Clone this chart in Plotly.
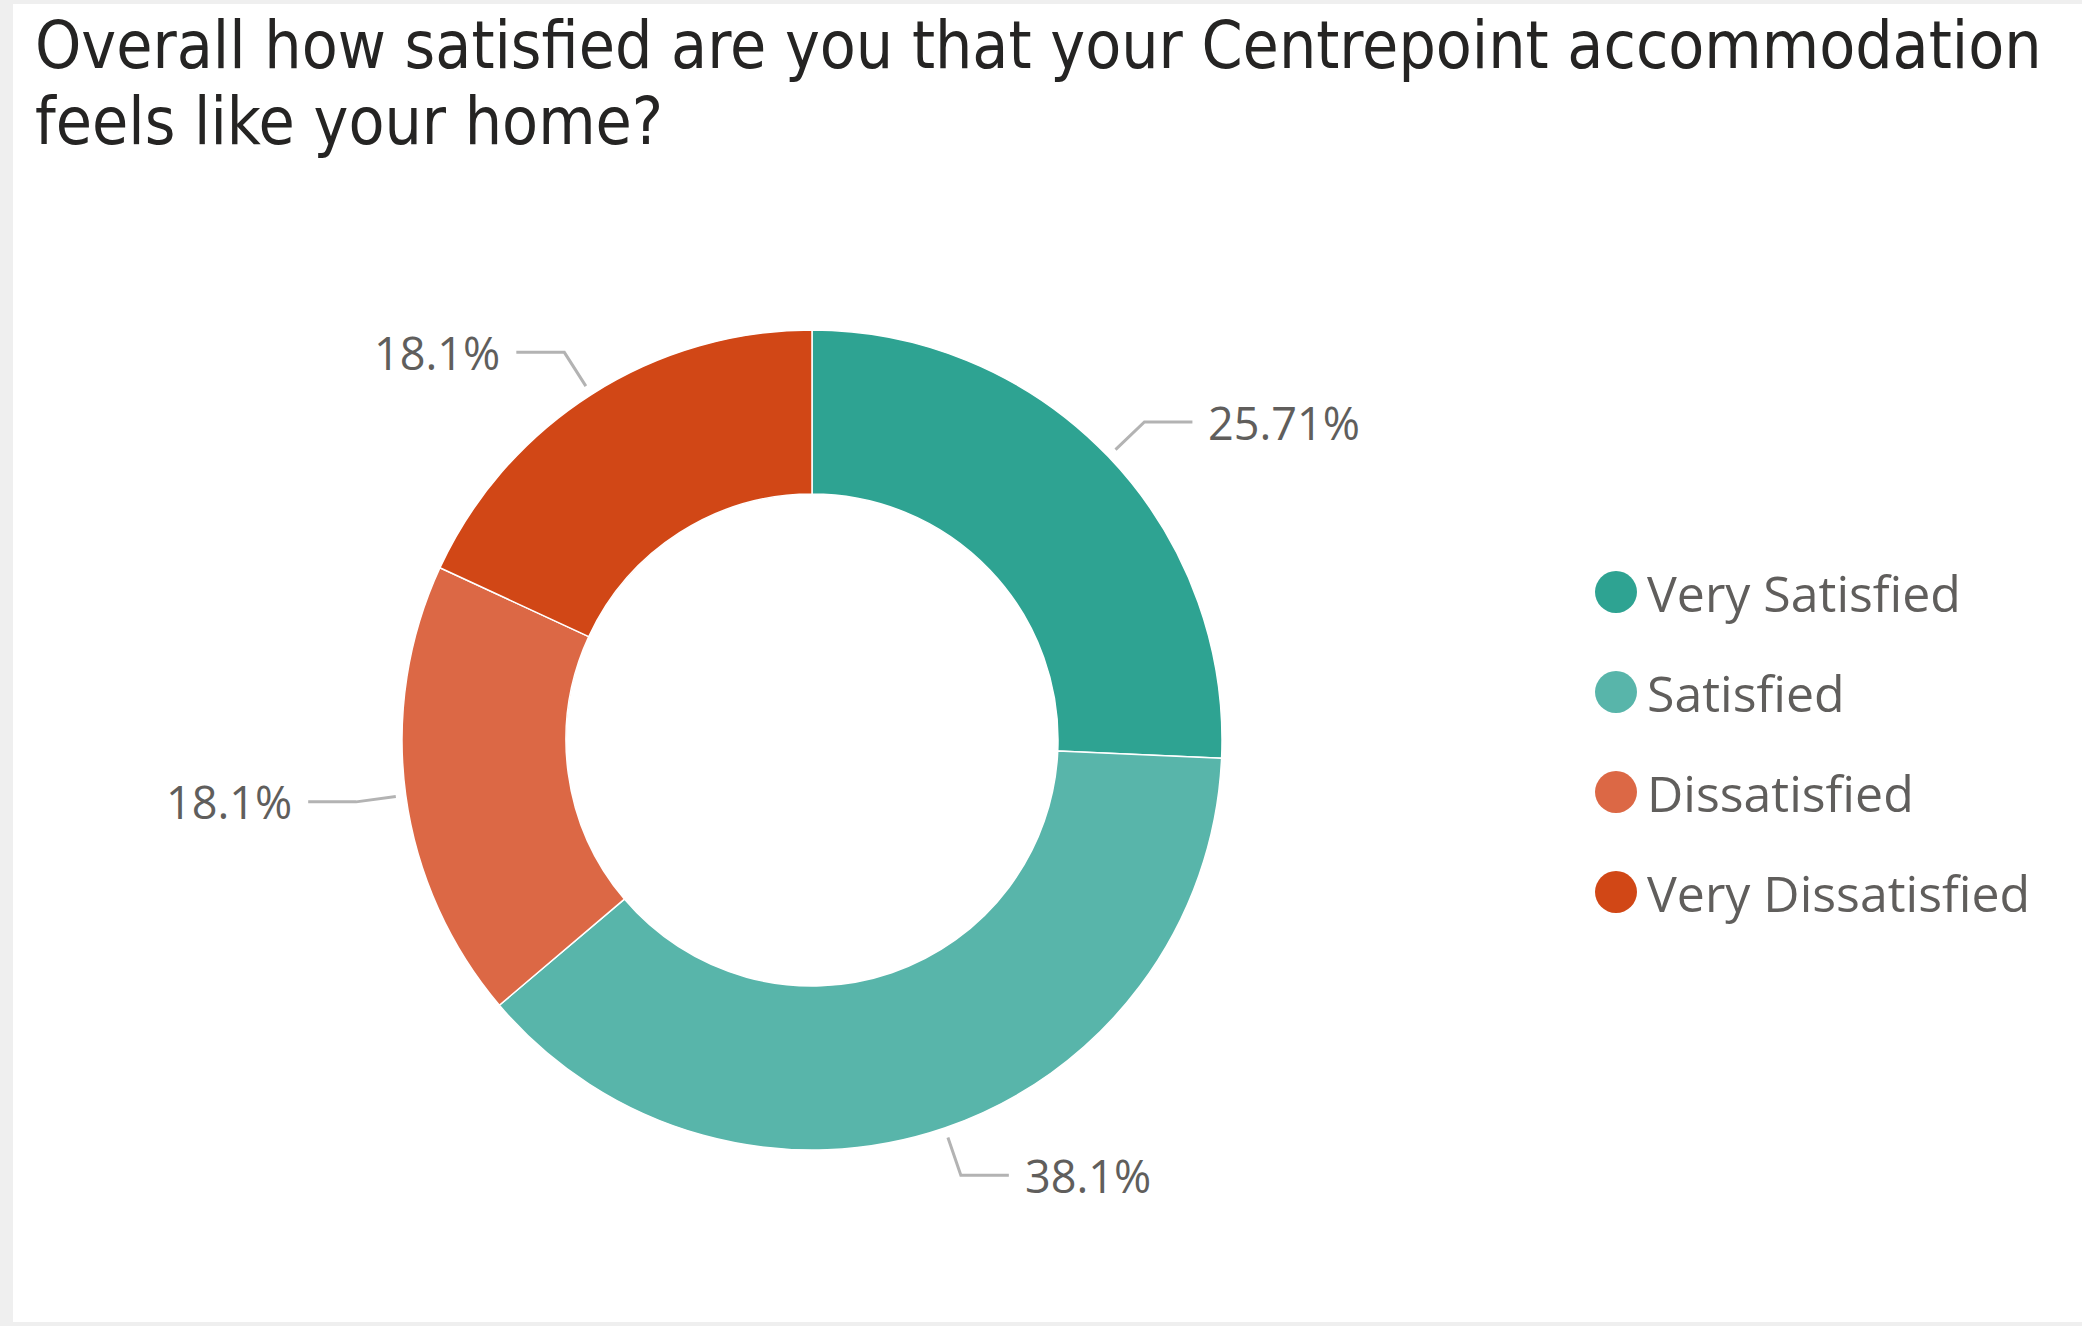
import math
import plotly.graph_objects as go

# --- data -------------------------------------------------------------
categories = ["Very Satisfied", "Satisfied", "Dissatisfied", "Very Dissatisfied"]
shares = [25.71, 38.1, 18.1, 18.1]
share_labels = ["25.71%", "38.1%", "18.1%", "18.1%"]
colors = ["#2EA392", "#58B5AA", "#DC6845", "#D14716"]

TITLE_LINES = [
    "Overall how satisfied are you that your Centrepoint accommodation",
    "feels like your home?",
]

# --- canvas geometry (pixels) -----------------------------------------
W, H = 2082, 1326
CX, CY, R = 812, 740, 410          # donut centre and outer radius
HOLE = 0.6
LABEL_FONT = "Segoe UI, Open Sans, Noto Sans, sans-serif"
TITLE_FONT = "DejaVu Sans Condensed, Liberation Sans Narrow, Roboto, sans-serif"
TEXT_GREY = "#605E5C"


def px(x):
    return x / W


def py(y):
    return 1 - y / H


fig = go.Figure()

fig.add_trace(go.Pie(
    labels=categories,
    values=shares,
    marker=dict(colors=colors, line=dict(color="white", width=1.5)),
    hole=HOLE,
    sort=False,
    direction="clockwise",
    rotation=0,
    textinfo="none",
    hoverinfo="label+percent",
    showlegend=False,
    domain=dict(x=[px(CX - R), px(CX + R)], y=[py(CY + R), py(CY - R)]),
))

shapes = [
    # white card on the grey page
    dict(type="rect", xref="paper", yref="paper",
         x0=px(13), x1=1.0, y0=py(1322), y1=py(4),
         fillcolor="white", line=dict(width=0), layer="below"),
]

# two-line title, each line placed on its own
annotations = []
for i, line in enumerate(TITLE_LINES):
    annotations.append(dict(
        text=line, xref="paper", yref="paper", x=px(33), y=py(5 + i * 76),
        xanchor="left", yanchor="top", align="left", showarrow=False,
        font=dict(family=TITLE_FONT, size=65.5, color="#252423"),
    ))

# leader lines and outside labels, placed at each slice's mid-angle
total = sum(shares)
cum = 0.0
for val, lab in zip(shares, share_labels):
    mid = (cum + val / 2) / total * 2 * math.pi
    cum += val
    sx, sy = math.sin(mid), -math.cos(mid)
    x0, y0 = CX + (R + 10) * sx, CY + (R + 10) * sy
    x1, y1 = CX + (R + 50) * sx, CY + (R + 50) * sy
    side = 1 if sx >= 0 else -1
    x2 = x1 + side * 48
    shapes.append(dict(
        type="path", xref="paper", yref="paper",
        path=f"M {px(x0)} {py(y0)} L {px(x1)} {py(y1)} L {px(x2)} {py(y1)}",
        line=dict(color="#B3B3B3", width=3),
    ))
    annotations.append(dict(
        text=lab, xref="paper", yref="paper",
        x=px(x2 + side * 14), y=py(y1),
        xanchor="left" if side > 0 else "right", yanchor="middle",
        showarrow=False, font=dict(family=LABEL_FONT, size=45, color=TEXT_GREY),
    ))

# legend: round swatches with category names
LEG_X, LEG_Y0, LEG_DY, DOT_R = 1616, 592, 100, 21
for i, (name, col) in enumerate(zip(categories, colors)):
    cy = LEG_Y0 + i * LEG_DY
    shapes.append(dict(
        type="circle", xref="paper", yref="paper",
        x0=px(LEG_X - DOT_R), x1=px(LEG_X + DOT_R),
        y0=py(cy + DOT_R), y1=py(cy - DOT_R),
        fillcolor=col, line=dict(width=0),
    ))
    annotations.append(dict(
        text=name, xref="paper", yref="paper",
        x=px(LEG_X + DOT_R + 8), y=py(cy + 1),
        xanchor="left", yanchor="middle", showarrow=False,
        font=dict(family=LABEL_FONT, size=50, color=TEXT_GREY),
    ))

fig.update_layout(
    width=W, height=H,
    margin=dict(l=0, r=0, t=0, b=0),
    paper_bgcolor="#EFEFEF",
    plot_bgcolor="white",
    shapes=shapes,
    annotations=annotations,
)

fig.write_html("out.html", config={"displayModeBar": False})
